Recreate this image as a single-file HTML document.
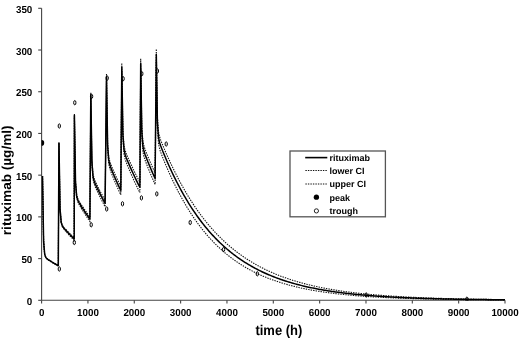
<!DOCTYPE html>
<html><head><meta charset="utf-8"><style>
html,body{margin:0;padding:0;background:#fff;}
body{width:520px;height:339px;overflow:hidden;}
svg{display:block;will-change:transform;}
text{font-family:"Liberation Sans",sans-serif;font-weight:bold;fill:#000;text-rendering:geometricPrecision;}
</style></head><body>
<svg width="520" height="339" viewBox="0 0 520 339">
<rect width="520" height="339" fill="#fff"/>
<defs><clipPath id="pc"><rect x="41.6" y="0" width="480" height="301"/></clipPath></defs>
<g stroke="#444" stroke-width="1.1" fill="none">
<line x1="41.6" y1="8.3" x2="41.6" y2="300.3"/>
<line x1="41.6" y1="300.3" x2="505.1" y2="300.3"/>
<text stroke="none" font-size="9.8" transform="translate(32.3,304.90) scale(1,1.04)" text-anchor="end">0</text><line x1="38.2" y1="300.30" x2="41.6" y2="300.30"/><text stroke="none" font-size="9.8" transform="translate(32.3,263.19) scale(1,1.04)" text-anchor="end">50</text><line x1="38.2" y1="258.59" x2="41.6" y2="258.59"/><text stroke="none" font-size="9.8" transform="translate(32.3,221.47) scale(1,1.04)" text-anchor="end">100</text><line x1="38.2" y1="216.87" x2="41.6" y2="216.87"/><text stroke="none" font-size="9.8" transform="translate(32.3,179.76) scale(1,1.04)" text-anchor="end">150</text><line x1="38.2" y1="175.16" x2="41.6" y2="175.16"/><text stroke="none" font-size="9.8" transform="translate(32.3,138.04) scale(1,1.04)" text-anchor="end">200</text><line x1="38.2" y1="133.44" x2="41.6" y2="133.44"/><text stroke="none" font-size="9.8" transform="translate(32.3,96.33) scale(1,1.04)" text-anchor="end">250</text><line x1="38.2" y1="91.73" x2="41.6" y2="91.73"/><text stroke="none" font-size="9.8" transform="translate(32.3,54.61) scale(1,1.04)" text-anchor="end">300</text><line x1="38.2" y1="50.01" x2="41.6" y2="50.01"/><text stroke="none" font-size="9.8" transform="translate(32.3,12.90) scale(1,1.04)" text-anchor="end">350</text><line x1="38.2" y1="8.30" x2="41.6" y2="8.30"/><text stroke="none" font-size="9.8" transform="translate(41.60,316.1) scale(1,1.04)" text-anchor="middle">0</text><line x1="41.60" y1="300.3" x2="41.60" y2="303.4"/><text stroke="none" font-size="9.8" transform="translate(87.94,316.1) scale(1,1.04)" text-anchor="middle">1000</text><line x1="87.94" y1="300.3" x2="87.94" y2="303.4"/><text stroke="none" font-size="9.8" transform="translate(134.28,316.1) scale(1,1.04)" text-anchor="middle">2000</text><line x1="134.28" y1="300.3" x2="134.28" y2="303.4"/><text stroke="none" font-size="9.8" transform="translate(180.62,316.1) scale(1,1.04)" text-anchor="middle">3000</text><line x1="180.62" y1="300.3" x2="180.62" y2="303.4"/><text stroke="none" font-size="9.8" transform="translate(226.96,316.1) scale(1,1.04)" text-anchor="middle">4000</text><line x1="226.96" y1="300.3" x2="226.96" y2="303.4"/><text stroke="none" font-size="9.8" transform="translate(273.30,316.1) scale(1,1.04)" text-anchor="middle">5000</text><line x1="273.30" y1="300.3" x2="273.30" y2="303.4"/><text stroke="none" font-size="9.8" transform="translate(319.64,316.1) scale(1,1.04)" text-anchor="middle">6000</text><line x1="319.64" y1="300.3" x2="319.64" y2="303.4"/><text stroke="none" font-size="9.8" transform="translate(365.98,316.1) scale(1,1.04)" text-anchor="middle">7000</text><line x1="365.98" y1="300.3" x2="365.98" y2="303.4"/><text stroke="none" font-size="9.8" transform="translate(412.32,316.1) scale(1,1.04)" text-anchor="middle">8000</text><line x1="412.32" y1="300.3" x2="412.32" y2="303.4"/><text stroke="none" font-size="9.8" transform="translate(458.66,316.1) scale(1,1.04)" text-anchor="middle">9000</text><line x1="458.66" y1="300.3" x2="458.66" y2="303.4"/><text stroke="none" font-size="9.8" transform="translate(505.00,316.1) scale(1,1.04)" text-anchor="middle">10000</text><line x1="505.00" y1="300.3" x2="505.00" y2="303.4"/>
</g>
<g font-size="9.8"></g>
<g clip-path="url(#pc)">
<path d="M42.50,176.10 L43.61,241.61 L44.72,254.44 L45.84,257.44 L46.95,258.56 L48.06,259.33 L49.17,260.03 L50.29,260.70 L51.40,261.36 L52.51,262.00 L53.62,262.64 L54.73,263.26 L55.85,263.88 L56.96,264.48 L58.07,265.08 L58.30,265.20 L58.95,142.49 L60.06,208.26 L61.17,221.60 L62.29,225.16 L63.40,226.79 L64.51,228.05 L65.62,229.23 L66.74,230.39 L67.85,231.52 L68.96,232.63 L70.07,233.73 L71.18,234.81 L72.30,235.87 L73.41,236.91 L74.20,237.64 L74.40,113.94 L75.51,180.60 L76.62,194.50 L77.74,198.54 L78.85,200.74 L79.96,202.56 L81.07,204.29 L82.19,205.97 L83.30,207.63 L84.41,209.25 L85.52,210.85 L86.63,212.42 L87.75,213.96 L88.86,215.47 L89.90,216.87 L90.80,92.52 L91.91,159.87 L93.02,174.19 L94.14,178.60 L95.25,181.36 L96.36,183.73 L97.47,186.00 L98.59,188.21 L99.70,190.38 L100.81,192.50 L101.92,194.59 L103.03,196.63 L104.15,198.64 L105.10,200.33 L106.50,73.89 L107.61,142.06 L108.72,156.78 L109.84,161.51 L110.95,164.65 L112.06,167.40 L113.17,170.02 L114.29,172.59 L115.40,175.11 L116.51,177.57 L117.62,179.99 L118.73,182.36 L119.85,184.68 L120.80,186.64 L121.80,63.27 L122.91,130.72 L124.02,145.47 L125.14,150.36 L126.25,153.43 L127.36,156.11 L128.47,158.69 L129.59,161.20 L130.70,163.67 L131.81,166.10 L132.92,168.48 L134.03,170.82 L135.15,173.12 L136.26,175.37 L137.37,177.59 L138.48,179.77 L139.59,181.91 L139.90,182.49 L140.70,58.84 L141.81,126.47 L142.92,141.31 L144.04,146.28 L145.15,149.57 L146.26,152.46 L147.37,155.24 L148.49,157.96 L149.60,160.62 L150.71,163.23 L151.82,165.79 L152.93,168.31 L154.05,170.78 L155.10,173.08 L156.30,48.96 L157.41,116.88 L158.52,131.92 L159.64,137.05 L160.75,140.27 L161.86,143.10 L162.97,145.82 L164.09,148.47 L165.20,151.08 L166.31,153.65 L167.42,156.17 L168.53,158.65 L169.65,161.09 L170.76,163.48 L171.87,165.83 L172.98,168.14 L174.09,170.42 L175.21,172.65 L176.32,174.84 L177.43,177.00 L178.54,179.13 L179.66,181.23 L180.77,183.30 L181.88,185.34 L182.99,187.34 L184.10,189.30 L185.22,191.23 L186.33,193.13 L187.44,194.99 L188.55,196.82 L189.66,198.62 L190.78,200.39 L191.89,202.12 L193.00,203.83 L194.11,205.51 L195.23,207.16 L196.34,208.77 L197.45,210.37 L198.56,211.93 L199.67,213.47 L200.79,214.97 L201.90,216.46 L203.01,217.92 L204.12,219.35 L205.24,220.76 L206.35,222.14 L207.46,223.50 L208.57,224.83 L209.68,226.14 L210.80,227.43 L211.91,228.70 L213.02,229.94 L214.13,231.17 L215.24,232.37 L216.36,233.55 L217.47,234.71 L218.58,235.85 L219.69,236.97 L220.81,238.07 L221.92,239.15 L223.03,240.22 L224.14,241.26 L225.25,242.29 L226.37,243.30 L227.48,244.29 L228.59,245.26 L229.70,246.22 L230.81,247.16 L231.93,248.08 L233.04,248.99 L234.15,249.88 L235.26,250.76 L236.38,251.62 L237.49,252.47 L238.60,253.30 L239.71,254.11 L240.82,254.92 L241.94,255.71 L243.05,256.48 L244.16,257.24 L245.27,257.99 L246.38,258.73 L247.50,259.45 L248.61,260.16 L249.72,260.86 L250.83,261.54 L251.95,262.22 L253.06,262.88 L254.17,263.53 L255.28,264.17 L256.39,264.80 L257.51,265.41 L258.62,266.02 L259.73,266.62 L260.84,267.20 L261.96,267.78 L263.07,268.34 L264.18,268.90 L265.29,269.44 L266.40,269.98 L267.52,270.51 L268.63,271.03 L269.74,271.53 L270.85,272.03 L271.96,272.53 L273.08,273.01 L274.19,273.48 L275.30,273.95 L276.41,274.41 L277.53,274.86 L278.64,275.30 L279.75,275.73 L280.86,276.16 L281.97,276.58 L283.09,276.99 L284.20,277.40 L285.31,277.80 L286.42,278.19 L287.53,278.57 L288.65,278.95 L289.76,279.32 L290.87,279.69 L291.98,280.04 L293.10,280.40 L294.21,280.74 L295.32,281.08 L296.43,281.42 L297.54,281.74 L298.66,282.07 L299.77,282.38 L300.88,282.70 L301.99,283.00 L303.11,283.30 L304.22,283.60 L305.33,283.89 L306.44,284.17 L307.55,284.45 L308.67,284.73 L309.78,285.00 L310.89,285.27 L312.00,285.53 L313.11,285.78 L314.23,286.04 L315.34,286.28 L316.45,286.53 L317.56,286.77 L318.68,287.00 L319.79,287.23 L320.90,287.46 L322.01,287.68 L323.12,287.90 L324.24,288.12 L325.35,288.33 L326.46,288.54 L327.57,288.74 L328.68,288.94 L329.80,289.14 L330.91,289.34 L332.02,289.53 L333.13,289.71 L334.25,289.90 L335.36,290.08 L336.47,290.26 L337.58,290.43 L338.69,290.60 L339.81,290.77 L340.92,290.94 L342.03,291.10 L343.14,291.26 L344.26,291.42 L345.37,291.57 L346.48,291.72 L347.59,291.87 L348.70,292.02 L349.82,292.16 L350.93,292.30 L352.04,292.44 L353.15,292.58 L354.26,292.71 L355.38,292.85 L356.49,292.98 L357.60,293.10 L358.71,293.23 L359.83,293.35 L360.94,293.47 L362.05,293.59 L363.16,293.71 L364.27,293.82 L365.39,293.93 L366.50,294.04 L367.61,294.15 L368.72,294.26 L369.83,294.37 L370.95,294.47 L372.06,294.57 L373.17,294.67 L374.28,294.77 L375.40,294.86 L376.51,294.96 L377.62,295.05 L378.73,295.14 L379.84,295.23 L380.96,295.32 L382.07,295.41 L383.18,295.49 L384.29,295.58 L385.40,295.66 L386.52,295.74 L387.63,295.82 L388.74,295.90 L389.85,295.97 L390.97,296.05 L392.08,296.12 L393.19,296.19 L394.30,296.26 L395.41,296.34 L396.53,296.40 L397.64,296.47 L398.75,296.54 L399.86,296.60 L400.98,296.67 L402.09,296.73 L403.20,296.79 L404.31,296.85 L405.42,296.91 L406.54,296.97 L407.65,297.03 L408.76,297.09 L409.87,297.14 L410.98,297.20 L412.10,297.25 L413.21,297.31 L414.32,297.36 L415.43,297.41 L416.55,297.46 L417.66,297.51 L418.77,297.56 L419.88,297.60 L420.99,297.65 L422.11,297.70 L423.22,297.74 L424.33,297.79 L425.44,297.83 L426.55,297.87 L427.67,297.92 L428.78,297.96 L429.89,298.00 L431.00,298.04 L432.12,298.08 L433.23,298.12 L434.34,298.15 L435.45,298.19 L436.56,298.23 L437.68,298.26 L438.79,298.30 L439.90,298.33 L441.01,298.37 L442.13,298.40 L443.24,298.43 L444.35,298.47 L445.46,298.50 L446.57,298.53 L447.69,298.56 L448.80,298.59 L449.91,298.62 L451.02,298.65 L452.13,298.68 L453.25,298.71 L454.36,298.73 L455.47,298.76 L456.58,298.79 L457.70,298.81 L458.81,298.84 L459.92,298.87 L461.03,298.89 L462.14,298.92 L463.26,298.94 L464.37,298.96 L465.48,298.99 L466.59,299.01 L467.70,299.03 L468.82,299.05 L469.93,299.08 L471.04,299.10 L472.15,299.12 L473.27,299.14 L474.38,299.16 L475.49,299.18 L476.60,299.20 L477.71,299.22 L478.83,299.24 L479.94,299.25 L481.05,299.27 L482.16,299.29 L483.28,299.31 L484.39,299.33 L485.50,299.34 L486.61,299.36 L487.72,299.38 L488.84,299.39 L489.95,299.41 L491.06,299.42 L492.17,299.44 L493.28,299.45 L494.40,299.47 L495.51,299.48 L496.62,299.50 L497.73,299.51 L498.85,299.52 L499.96,299.54 L501.07,299.55 L502.18,299.56 L503.29,299.58 L504.41,299.59 L505.00,299.60" fill="none" stroke="#111" stroke-width="1.1" stroke-dasharray="1.4,1.1"/>
<path d="M42.50,176.10 L43.61,241.71 L44.72,254.63 L45.84,257.71 L46.95,258.92 L48.06,259.78 L49.17,260.55 L50.29,261.30 L51.40,262.03 L52.51,262.75 L53.62,263.45 L54.73,264.14 L55.85,264.82 L56.96,265.49 L58.07,266.14 L58.30,266.27 L58.95,143.58 L60.06,209.49 L61.17,222.98 L62.29,226.68 L63.40,228.43 L64.51,229.82 L65.62,231.13 L66.74,232.40 L67.85,233.65 L68.96,234.87 L70.07,236.07 L71.18,237.25 L72.30,238.40 L73.41,239.54 L74.20,240.33 L74.40,116.63 L75.51,183.46 L76.62,197.53 L77.74,201.73 L78.85,204.08 L79.96,206.05 L81.07,207.92 L82.19,209.74 L83.30,211.53 L84.41,213.27 L85.52,214.99 L86.63,216.66 L87.75,218.31 L88.86,219.92 L89.90,221.41 L90.80,97.16 L91.91,164.70 L93.02,179.19 L94.14,183.77 L95.25,186.68 L96.36,189.19 L97.47,191.59 L98.59,193.93 L99.70,196.21 L100.81,198.44 L101.92,200.63 L103.03,202.77 L104.15,204.87 L105.10,206.63 L106.50,80.48 L107.61,148.83 L108.72,163.73 L109.84,168.62 L110.95,171.91 L112.06,174.78 L113.17,177.54 L114.29,180.22 L115.40,182.84 L116.51,185.40 L117.62,187.91 L118.73,190.37 L119.85,192.77 L120.80,194.79 L121.80,71.56 L122.91,139.19 L124.02,154.10 L125.14,159.15 L126.25,162.37 L127.36,165.19 L128.47,167.89 L129.59,170.53 L130.70,173.11 L131.81,175.64 L132.92,178.12 L134.03,180.55 L135.15,182.93 L136.26,185.27 L137.37,187.56 L138.48,189.80 L139.59,192.00 L139.90,192.59 L140.70,69.05 L141.81,136.83 L142.92,151.81 L144.04,156.91 L145.15,160.30 L146.26,163.30 L147.37,166.16 L148.49,168.96 L149.60,171.70 L150.71,174.38 L151.82,177.01 L152.93,179.58 L154.05,182.09 L155.10,184.43 L156.30,60.55 L157.41,128.61 L158.52,143.77 L159.64,149.03 L160.75,152.37 L161.86,155.30 L162.97,158.12 L164.09,160.87 L165.20,163.57 L166.31,166.21 L167.42,168.81 L168.53,171.35 L169.65,173.84 L170.76,176.29 L171.87,178.69 L172.98,181.04 L174.09,183.34 L175.21,185.61 L176.32,187.82 L177.43,190.00 L178.54,192.14 L179.66,194.25 L180.77,196.32 L181.88,198.35 L182.99,200.34 L184.10,202.30 L185.22,204.21 L186.33,206.09 L187.44,207.93 L188.55,209.73 L189.66,211.50 L190.78,213.23 L191.89,214.93 L193.00,216.60 L194.11,218.23 L195.23,219.84 L196.34,221.41 L197.45,222.95 L198.56,224.46 L199.67,225.94 L200.79,227.39 L201.90,228.82 L203.01,230.21 L204.12,231.58 L205.24,232.92 L206.35,234.24 L207.46,235.53 L208.57,236.79 L209.68,238.03 L210.80,239.25 L211.91,240.44 L213.02,241.61 L214.13,242.76 L215.24,243.88 L216.36,244.98 L217.47,246.06 L218.58,247.12 L219.69,248.16 L220.81,249.18 L221.92,250.18 L223.03,251.15 L224.14,252.11 L225.25,253.06 L226.37,253.98 L227.48,254.88 L228.59,255.77 L229.70,256.64 L230.81,257.49 L231.93,258.33 L233.04,259.15 L234.15,259.95 L235.26,260.74 L236.38,261.51 L237.49,262.27 L238.60,263.01 L239.71,263.74 L240.82,264.45 L241.94,265.15 L243.05,265.84 L244.16,266.51 L245.27,267.17 L246.38,267.82 L247.50,268.45 L248.61,269.08 L249.72,269.69 L250.83,270.28 L251.95,270.87 L253.06,271.44 L254.17,272.01 L255.28,272.56 L256.39,273.10 L257.51,273.63 L258.62,274.15 L259.73,274.66 L260.84,275.16 L261.96,275.66 L263.07,276.14 L264.18,276.61 L265.29,277.07 L266.40,277.53 L267.52,277.97 L268.63,278.41 L269.74,278.83 L270.85,279.25 L271.96,279.66 L273.08,280.07 L274.19,280.46 L275.30,280.85 L276.41,281.23 L277.53,281.60 L278.64,281.97 L279.75,282.32 L280.86,282.68 L281.97,283.02 L283.09,283.36 L284.20,283.69 L285.31,284.01 L286.42,284.33 L287.53,284.64 L288.65,284.95 L289.76,285.25 L290.87,285.54 L291.98,285.83 L293.10,286.11 L294.21,286.39 L295.32,286.66 L296.43,286.93 L297.54,287.19 L298.66,287.44 L299.77,287.70 L300.88,287.94 L301.99,288.18 L303.11,288.42 L304.22,288.65 L305.33,288.88 L306.44,289.10 L307.55,289.32 L308.67,289.54 L309.78,289.75 L310.89,289.95 L312.00,290.15 L313.11,290.35 L314.23,290.55 L315.34,290.74 L316.45,290.92 L317.56,291.11 L318.68,291.29 L319.79,291.46 L320.90,291.63 L322.01,291.80 L323.12,291.97 L324.24,292.13 L325.35,292.29 L326.46,292.45 L327.57,292.60 L328.68,292.75 L329.80,292.90 L330.91,293.04 L332.02,293.19 L333.13,293.32 L334.25,293.46 L335.36,293.59 L336.47,293.73 L337.58,293.85 L338.69,293.98 L339.81,294.10 L340.92,294.22 L342.03,294.34 L343.14,294.46 L344.26,294.57 L345.37,294.68 L346.48,294.79 L347.59,294.90 L348.70,295.01 L349.82,295.11 L350.93,295.21 L352.04,295.31 L353.15,295.41 L354.26,295.50 L355.38,295.60 L356.49,295.69 L357.60,295.78 L358.71,295.87 L359.83,295.95 L360.94,296.04 L362.05,296.12 L363.16,296.20 L364.27,296.28 L365.39,296.36 L366.50,296.44 L367.61,296.52 L368.72,296.59 L369.83,296.66 L370.95,296.73 L372.06,296.80 L373.17,296.87 L374.28,296.94 L375.40,297.00 L376.51,297.07 L377.62,297.13 L378.73,297.19 L379.84,297.25 L380.96,297.31 L382.07,297.37 L383.18,297.43 L384.29,297.48 L385.40,297.54 L386.52,297.59 L387.63,297.65 L388.74,297.70 L389.85,297.75 L390.97,297.80 L392.08,297.85 L393.19,297.90 L394.30,297.94 L395.41,297.99 L396.53,298.03 L397.64,298.08 L398.75,298.12 L399.86,298.16 L400.98,298.21 L402.09,298.25 L403.20,298.29 L404.31,298.33 L405.42,298.36 L406.54,298.40 L407.65,298.44 L408.76,298.48 L409.87,298.51 L410.98,298.55 L412.10,298.58 L413.21,298.61 L414.32,298.65 L415.43,298.68 L416.55,298.71 L417.66,298.74 L418.77,298.77 L419.88,298.80 L420.99,298.83 L422.11,298.86 L423.22,298.89 L424.33,298.92 L425.44,298.94 L426.55,298.97 L427.67,299.00 L428.78,299.02 L429.89,299.05 L431.00,299.07 L432.12,299.09 L433.23,299.12 L434.34,299.14 L435.45,299.16 L436.56,299.19 L437.68,299.21 L438.79,299.23 L439.90,299.25 L441.01,299.27 L442.13,299.29 L443.24,299.31 L444.35,299.33 L445.46,299.35 L446.57,299.37 L447.69,299.39 L448.80,299.40 L449.91,299.42 L451.02,299.44 L452.13,299.45 L453.25,299.47 L454.36,299.49 L455.47,299.50 L456.58,299.52 L457.70,299.53 L458.81,299.55 L459.92,299.56 L461.03,299.58 L462.14,299.59 L463.26,299.61 L464.37,299.62 L465.48,299.63 L466.59,299.65 L467.70,299.66 L468.82,299.67 L469.93,299.68 L471.04,299.70 L472.15,299.71 L473.27,299.72 L474.38,299.73 L475.49,299.74 L476.60,299.75 L477.71,299.76 L478.83,299.77 L479.94,299.78 L481.05,299.79 L482.16,299.80 L483.28,299.81 L484.39,299.82 L485.50,299.83 L486.61,299.84 L487.72,299.85 L488.84,299.86 L489.95,299.87 L491.06,299.88 L492.17,299.88 L493.28,299.89 L494.40,299.90 L495.51,299.91 L496.62,299.92 L497.73,299.92 L498.85,299.93 L499.96,299.94 L501.07,299.94 L502.18,299.95 L503.29,299.96 L504.41,299.97 L505.00,299.97" fill="none" stroke="#111" stroke-width="1.1" stroke-dasharray="1.4,1.1"/>
<path d="M42.50,176.10 L43.61,241.66 L44.72,254.53 L45.84,257.57 L46.95,258.73 L48.06,259.54 L49.17,260.27 L50.29,260.98 L51.40,261.67 L52.51,262.35 L53.62,263.02 L54.73,263.67 L55.85,264.32 L56.96,264.95 L58.07,265.57 L58.30,265.70 L58.95,143.00 L60.06,208.83 L61.17,222.25 L62.29,225.87 L63.40,227.55 L64.51,228.88 L65.62,230.12 L66.74,231.33 L67.85,232.51 L68.96,233.68 L70.07,234.82 L71.18,235.95 L72.30,237.05 L73.41,238.14 L74.20,238.90 L74.40,115.20 L75.51,181.94 L76.62,195.92 L77.74,200.03 L78.85,202.30 L79.96,204.19 L81.07,205.99 L82.19,207.74 L83.30,209.45 L84.41,211.14 L85.52,212.79 L86.63,214.41 L87.75,216.00 L88.86,217.56 L89.90,219.00 L90.80,94.70 L91.91,162.14 L93.02,176.54 L94.14,181.03 L95.25,183.86 L96.36,186.30 L97.47,188.63 L98.59,190.90 L99.70,193.13 L100.81,195.30 L101.92,197.44 L103.03,199.53 L104.15,201.58 L105.10,203.30 L106.50,77.00 L107.61,145.26 L108.72,160.06 L109.84,164.87 L110.95,168.08 L112.06,170.89 L113.17,173.58 L114.29,176.20 L115.40,178.76 L116.51,181.28 L117.62,183.74 L118.73,186.15 L119.85,188.51 L120.80,190.50 L121.80,67.20 L122.91,134.73 L124.02,149.56 L125.14,154.53 L126.25,157.67 L127.36,160.42 L128.47,163.05 L129.59,165.63 L130.70,168.15 L131.81,170.63 L132.92,173.06 L134.03,175.44 L135.15,177.78 L136.26,180.08 L137.37,182.33 L138.48,184.54 L139.59,186.71 L139.90,187.30 L140.70,63.70 L141.81,131.40 L142.92,146.31 L144.04,151.34 L145.15,154.68 L146.26,157.63 L147.37,160.45 L148.49,163.21 L149.60,165.90 L150.71,168.55 L151.82,171.15 L152.93,173.69 L154.05,176.18 L155.10,178.50 L156.30,54.50 L157.41,122.49 L158.52,137.59 L159.64,142.78 L160.75,146.05 L161.86,148.94 L162.97,151.70 L164.09,154.41 L165.20,157.06 L166.31,159.67 L167.42,162.22 L168.53,164.73 L169.65,167.20 L170.76,169.62 L171.87,171.99 L172.98,174.33 L174.09,176.62 L175.21,178.87 L176.32,181.08 L177.43,183.24 L178.54,185.38 L179.66,187.49 L180.77,189.56 L181.88,191.60 L182.99,193.60 L184.10,195.56 L185.22,197.48 L186.33,199.37 L187.44,201.22 L188.55,203.04 L189.66,204.83 L190.78,206.59 L191.89,208.31 L193.00,210.00 L194.11,211.66 L195.23,213.29 L196.34,214.88 L197.45,216.45 L198.56,217.99 L199.67,219.51 L200.79,220.99 L201.90,222.45 L203.01,223.88 L204.12,225.28 L205.24,226.66 L206.35,228.01 L207.46,229.34 L208.57,230.65 L209.68,231.93 L210.80,233.18 L211.91,234.42 L213.02,235.63 L214.13,236.82 L215.24,237.98 L216.36,239.13 L217.47,240.25 L218.58,241.35 L219.69,242.44 L220.81,243.50 L221.92,244.54 L223.03,245.57 L224.14,246.57 L225.25,247.56 L226.37,248.53 L227.48,249.48 L228.59,250.42 L229.70,251.33 L230.81,252.23 L231.93,253.11 L233.04,253.98 L234.15,254.83 L235.26,255.67 L236.38,256.49 L237.49,257.29 L238.60,258.08 L239.71,258.86 L240.82,259.62 L241.94,260.37 L243.05,261.10 L244.16,261.82 L245.27,262.53 L246.38,263.22 L247.50,263.90 L248.61,264.57 L249.72,265.23 L250.83,265.87 L251.95,266.51 L253.06,267.13 L254.17,267.74 L255.28,268.34 L256.39,268.92 L257.51,269.50 L258.62,270.06 L259.73,270.62 L260.84,271.17 L261.96,271.70 L263.07,272.23 L264.18,272.74 L265.29,273.25 L266.40,273.75 L267.52,274.23 L268.63,274.71 L269.74,275.18 L270.85,275.64 L271.96,276.10 L273.08,276.54 L274.19,276.98 L275.30,277.41 L276.41,277.83 L277.53,278.24 L278.64,278.65 L279.75,279.04 L280.86,279.43 L281.97,279.82 L283.09,280.19 L284.20,280.56 L285.31,280.93 L286.42,281.28 L287.53,281.63 L288.65,281.97 L289.76,282.31 L290.87,282.64 L291.98,282.97 L293.10,283.28 L294.21,283.60 L295.32,283.90 L296.43,284.21 L297.54,284.50 L298.66,284.79 L299.77,285.08 L300.88,285.36 L301.99,285.63 L303.11,285.90 L304.22,286.16 L305.33,286.42 L306.44,286.68 L307.55,286.93 L308.67,287.18 L309.78,287.42 L310.89,287.65 L312.00,287.89 L313.11,288.11 L314.23,288.34 L315.34,288.56 L316.45,288.77 L317.56,288.99 L318.68,289.19 L319.79,289.40 L320.90,289.60 L322.01,289.79 L323.12,289.99 L324.24,290.18 L325.35,290.36 L326.46,290.55 L327.57,290.72 L328.68,290.90 L329.80,291.07 L330.91,291.24 L332.02,291.41 L333.13,291.57 L334.25,291.73 L335.36,291.89 L336.47,292.04 L337.58,292.20 L338.69,292.35 L339.81,292.49 L340.92,292.63 L342.03,292.78 L343.14,292.91 L344.26,293.05 L345.37,293.18 L346.48,293.31 L347.59,293.44 L348.70,293.57 L349.82,293.69 L350.93,293.81 L352.04,293.93 L353.15,294.05 L354.26,294.16 L355.38,294.28 L356.49,294.39 L357.60,294.50 L358.71,294.60 L359.83,294.71 L360.94,294.81 L362.05,294.91 L363.16,295.01 L364.27,295.11 L365.39,295.20 L366.50,295.30 L367.61,295.39 L368.72,295.48 L369.83,295.57 L370.95,295.65 L372.06,295.74 L373.17,295.82 L374.28,295.91 L375.40,295.99 L376.51,296.07 L377.62,296.14 L378.73,296.22 L379.84,296.29 L380.96,296.37 L382.07,296.44 L383.18,296.51 L384.29,296.58 L385.40,296.65 L386.52,296.72 L387.63,296.78 L388.74,296.85 L389.85,296.91 L390.97,296.97 L392.08,297.03 L393.19,297.09 L394.30,297.15 L395.41,297.21 L396.53,297.27 L397.64,297.32 L398.75,297.38 L399.86,297.43 L400.98,297.48 L402.09,297.54 L403.20,297.59 L404.31,297.64 L405.42,297.69 L406.54,297.73 L407.65,297.78 L408.76,297.83 L409.87,297.87 L410.98,297.92 L412.10,297.96 L413.21,298.00 L414.32,298.05 L415.43,298.09 L416.55,298.13 L417.66,298.17 L418.77,298.21 L419.88,298.25 L420.99,298.28 L422.11,298.32 L423.22,298.36 L424.33,298.39 L425.44,298.43 L426.55,298.46 L427.67,298.50 L428.78,298.53 L429.89,298.56 L431.00,298.59 L432.12,298.62 L433.23,298.66 L434.34,298.69 L435.45,298.72 L436.56,298.74 L437.68,298.77 L438.79,298.80 L439.90,298.83 L441.01,298.86 L442.13,298.88 L443.24,298.91 L444.35,298.93 L445.46,298.96 L446.57,298.98 L447.69,299.01 L448.80,299.03 L449.91,299.05 L451.02,299.08 L452.13,299.10 L453.25,299.12 L454.36,299.14 L455.47,299.17 L456.58,299.19 L457.70,299.21 L458.81,299.23 L459.92,299.25 L461.03,299.27 L462.14,299.28 L463.26,299.30 L464.37,299.32 L465.48,299.34 L466.59,299.36 L467.70,299.37 L468.82,299.39 L469.93,299.41 L471.04,299.42 L472.15,299.44 L473.27,299.46 L474.38,299.47 L475.49,299.49 L476.60,299.50 L477.71,299.52 L478.83,299.53 L479.94,299.55 L481.05,299.56 L482.16,299.57 L483.28,299.59 L484.39,299.60 L485.50,299.61 L486.61,299.62 L487.72,299.64 L488.84,299.65 L489.95,299.66 L491.06,299.67 L492.17,299.68 L493.28,299.70 L494.40,299.71 L495.51,299.72 L496.62,299.73 L497.73,299.74 L498.85,299.75 L499.96,299.76 L501.07,299.77 L502.18,299.78 L503.29,299.79 L504.41,299.80 L505.00,299.80" fill="none" stroke="#000" stroke-width="1.5" stroke-linejoin="round"/>
<g fill="none" stroke="#000" stroke-width="1"><ellipse cx="59.3" cy="269.0" rx="1.15" ry="2.15"/><ellipse cx="74.3" cy="242.5" rx="1.15" ry="2.15"/><ellipse cx="91.2" cy="224.8" rx="1.15" ry="2.15"/><ellipse cx="106.7" cy="209.0" rx="1.15" ry="2.15"/><ellipse cx="122.5" cy="203.8" rx="1.15" ry="2.15"/><ellipse cx="141.4" cy="197.9" rx="1.15" ry="2.15"/><ellipse cx="156.8" cy="193.9" rx="1.15" ry="2.15"/><ellipse cx="166.2" cy="144.0" rx="1.15" ry="2.15"/><ellipse cx="190.2" cy="222.5" rx="1.15" ry="2.15"/><ellipse cx="223.6" cy="249.5" rx="1.15" ry="2.15"/><ellipse cx="257.3" cy="273.8" rx="1.15" ry="2.15"/><ellipse cx="366.2" cy="295.0" rx="1.15" ry="2.15"/><ellipse cx="466.9" cy="299.2" rx="1.15" ry="2.15"/><ellipse cx="59.3" cy="126.0" rx="1.15" ry="2.15"/><ellipse cx="74.8" cy="102.7" rx="1.15" ry="2.15"/><ellipse cx="91.6" cy="96.4" rx="1.15" ry="2.15"/><ellipse cx="107.2" cy="78.1" rx="1.15" ry="2.15"/><ellipse cx="123.1" cy="78.7" rx="1.15" ry="2.15"/><ellipse cx="141.8" cy="73.7" rx="1.15" ry="2.15"/><ellipse cx="157.4" cy="71.0" rx="1.15" ry="2.15"/></g>
<g fill="#000"><ellipse cx="41.8" cy="142.9" rx="2.4" ry="2.8"/></g>
</g>
<text x="0" y="0" font-size="13" text-anchor="middle" transform="translate(10.9,180.3) rotate(-90) scale(1.045,1)">rituximab (µg/ml)</text>
<text font-size="13" text-anchor="middle" transform="translate(278.9,334.8) scale(1,1.09)">time (h)</text>
<g>
<rect x="290" y="151" width="95.4" height="65.8" fill="#fff" stroke="#555" stroke-width="1.3"/>
<line x1="305.2" y1="157.6" x2="327.3" y2="157.6" stroke="#000" stroke-width="1.6"/>
<line x1="305.4" y1="170.5" x2="327.3" y2="170.5" stroke="#111" stroke-width="1.1" stroke-dasharray="1.4,1.1"/>
<line x1="305.4" y1="184.0" x2="327.3" y2="184.0" stroke="#111" stroke-width="1.1" stroke-dasharray="1.4,1.1"/>
<circle cx="316.4" cy="197.2" r="2.65" fill="#000"/>
<circle cx="316.4" cy="210.9" r="2.1" fill="#fff" stroke="#222" stroke-width="1"/>
<g font-size="9">
<text x="329.4" y="160.8">rituximab</text>
<text x="329.4" y="174.1">lower CI</text>
<text x="329.4" y="187.4">upper CI</text>
<text x="329.4" y="200.7">peak</text>
<text x="329.4" y="214.0">trough</text>
</g>
</g>
</svg>
</body></html>
